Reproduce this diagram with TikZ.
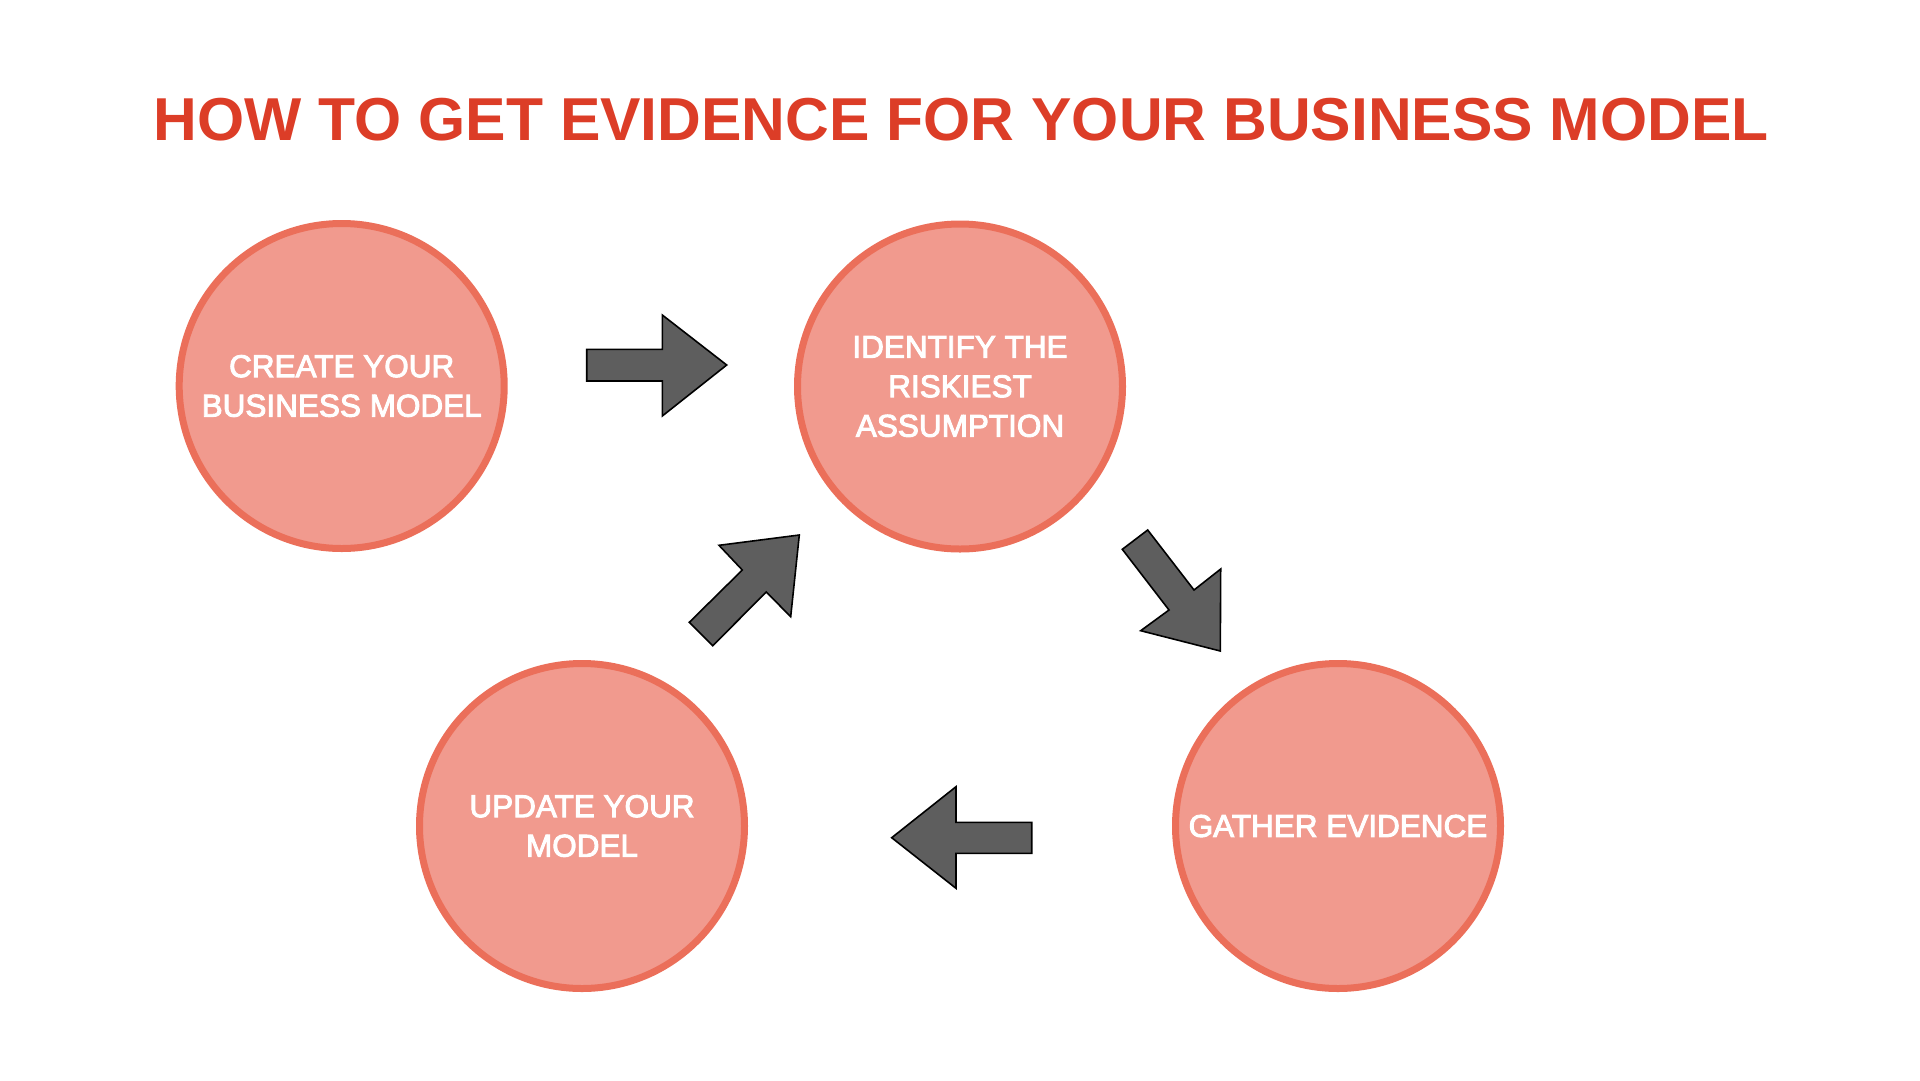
\documentclass[tikz,border=0pt]{standalone}
\usepackage{fontspec}
\setmainfont{Liberation Sans}
\newfontfamily\circfont{Liberation Sans}[FakeBold=3]
\definecolor{titlered}{HTML}{DC3D27}
\definecolor{circfill}{HTML}{F19A8E}
\definecolor{circline}{HTML}{EB6F5A}
\definecolor{arrowgray}{HTML}{5E5E5E}
\tikzset{
  stepcircle/.style={circle, draw=circline, fill=circfill, line width=7pt,
    minimum size=325pt, inner sep=0pt, text=white, align=center,
    font=\circfont\fontsize{31.5pt}{39.5pt}\selectfont},
  blockarrow/.style={draw=black, fill=arrowgray, line width=1.6pt, line join=miter},
  titletext/.style={text=titlered, font=\fontsize{60.6pt}{66pt}\selectfont\bfseries, inner sep=0pt, anchor=base}
}
\begin{document}
\begin{tikzpicture}[x=1pt, y=-1pt]
\useasboundingbox (0,0) rectangle (1920,1080);
\node[titletext] (title) at (961.3,140.7) {HOW TO GET EVIDENCE FOR YOUR BUSINESS MODEL};
\node[stepcircle] (create) at (341.7,386) {CREATE YOUR\\BUSINESS MODEL};
\node[stepcircle] (identify) at (960,386.5) {IDENTIFY THE\\RISKIEST\\ASSUMPTION};
\node[stepcircle] (update) at (582,826) {UPDATE YOUR\\MODEL};
\node[stepcircle] (gather) at (1338,826) {GATHER EVIDENCE};
% block arrows
\draw[blockarrow] (586.7,349.3) -- (662.3,349.3) -- (662.3,315) -- (726.7,365) -- (662.3,416) -- (662.3,381) -- (586.7,381) -- cycle;
\draw[blockarrow] (1122.3,549.3) -- (1147.7,530) -- (1194,590) -- (1220.7,569) -- (1220.3,651) -- (1140.7,630.7) -- (1169,610) -- cycle;
\draw[blockarrow] (891.7,837.7) -- (956,786.7) -- (956,822.3) -- (1031.7,822.3) -- (1031.7,853.3) -- (956,853.3) -- (956,888.3) -- cycle;
\draw[blockarrow] (689.3,622.3) -- (742.3,570) -- (719,545.3) -- (799.3,535) -- (790.7,616.7) -- (766.3,592) -- (712.7,645.7) -- cycle;
\end{tikzpicture}
\end{document}
